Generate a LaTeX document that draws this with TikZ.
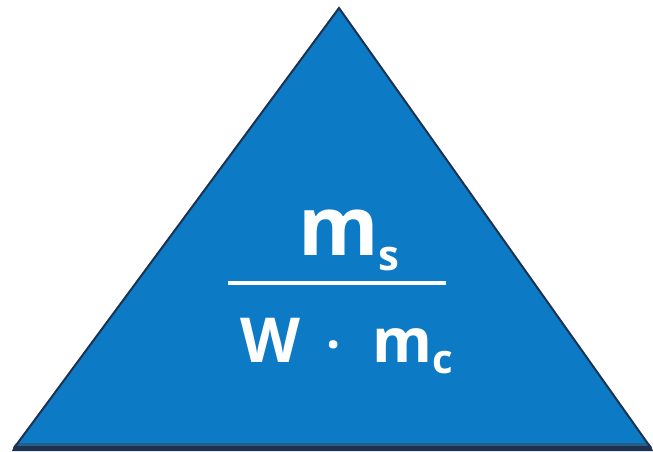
\documentclass[tikz,border=0pt]{standalone}
\usepackage{fontspec}
\setmainfont{Open Sans}
\definecolor{trifill}{RGB}{12,122,196}
\definecolor{triedge}{RGB}{27,50,80}
\definecolor{bandtop}{RGB}{40,95,135}
\begin{document}
\begin{tikzpicture}[x=1pt,y=-1pt,
  lbl/.style={text=white,inner sep=0pt,anchor=base west}]
\useasboundingbox (0,0) rectangle (653,451);
\fill[white] (0,0) rectangle (653,451);
% triangle
\coordinate (apex) at (339,8);
\coordinate (bl) at (14,448);
\coordinate (br) at (651,448);
\fill[trifill] (apex) -- (br) -- (bl) -- cycle;
\fill[bandtop] (16.2,443) -- (648.8,443) -- (651,446) -- (14,446) -- cycle;
\fill[triedge] (14,446) -- (651,446) -- (653,451) -- (12,451) -- cycle;
\draw[triedge,line width=2pt,line join=miter] (bl) -- (apex) -- (br);
% numerator
\node[lbl,font=\bfseries\fontsize{82}{82}\selectfont] (ms) at (298,255) {m};
\node[lbl,font=\bfseries\fontsize{42}{42}\selectfont] (s) at (378,270) {s};
% fraction bar
\coordinate (barl) at (228,283);
\coordinate (barr) at (446,283);
\draw[white,line width=4pt] (barl) -- (barr);
% denominator
\node[lbl,font=\bfseries\fontsize{62}{62}\selectfont] (w) at (240,362) {W};
\node[lbl,font=\bfseries\fontsize{50}{50}\selectfont] (dot) at (326,362) {·};
\node[lbl,font=\bfseries\fontsize{61}{61}\selectfont] (mc) at (372,362) {m};
\node[lbl,font=\bfseries\fontsize{40}{40}\selectfont] (c) at (432,373) {c};
\end{tikzpicture}
\end{document}
